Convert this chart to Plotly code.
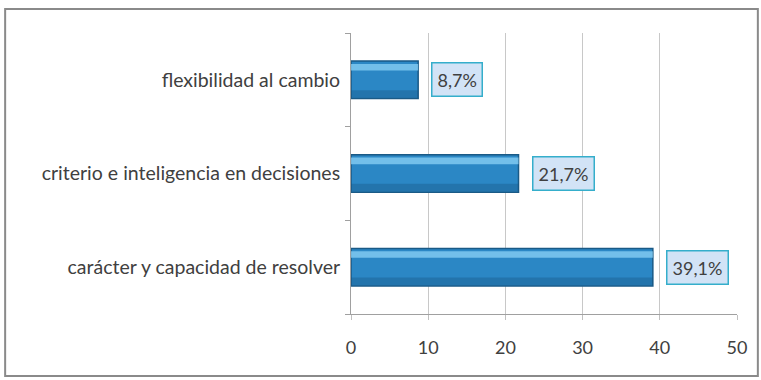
import plotly.graph_objects as go

categories = ["carácter y capacidad de resolver",
              "criterio e inteligencia en decisiones",
              "flexibilidad al cambio"]
values = [39.1, 21.7, 8.7]
labels = ["39,1%", "21,7%", "8,7%"]
x_ticks = [0, 10, 20, 30, 40, 50]

FONT = "Lato, Open Sans, sans-serif"

fig = go.Figure()

# main bars
fig.add_trace(go.Bar(
    y=categories, x=values, orientation="h",
    marker=dict(color="#2b87c5", line=dict(color="#1a5a86", width=1.5)),
    width=0.4, hoverinfo="skip", showlegend=False,
))
# top highlight stripe for a bevelled look
fig.add_trace(go.Bar(
    y=categories, x=values, orientation="h",
    marker=dict(color="rgba(140,210,245,0.75)", line=dict(width=0)),
    width=0.07, offset=0.1, hoverinfo="skip", showlegend=False,
))
# darker lower band
fig.add_trace(go.Bar(
    y=categories, x=values, orientation="h",
    marker=dict(color="rgba(20,80,125,0.35)", line=dict(width=0)),
    width=0.08, offset=-0.19, hoverinfo="skip", showlegend=False,
))

for c, v, t in zip(categories, values, labels):
    fig.add_annotation(
        x=v, y=c, xref="x", yref="y", text=t, showarrow=False,
        xanchor="left", xshift=13,
        font=dict(family=FONT, size=18, color="#404040"),
        bgcolor="#d2e3f6", bordercolor="#35aecb", borderwidth=1.5, borderpad=5,
    )

# outer chart frame
fig.add_shape(type="rect", xref="paper", yref="paper",
              x0=-0.896, x1=1.054, y0=-0.221, y1=1.085,
              line=dict(color="#8a8a8a", width=2), layer="below")

fig.update_layout(
    width=761, height=380,
    margin=dict(l=351, r=24, t=33, b=66),
    paper_bgcolor="white", plot_bgcolor="white",
    barmode="overlay",
    font=dict(family=FONT, size=18, color="#404040"),
    xaxis=dict(range=[0, 50], tickvals=x_ticks, showgrid=True,
               gridcolor="#c8c8c8", gridwidth=1, zeroline=False,
               showline=True, linecolor="#a0a0a0", linewidth=1,
               ticks="outside", ticklen=5, tickcolor="#c0c0c0",
               ticklabelstandoff=12,
               tickfont=dict(size=18, color="#404040"), fixedrange=True),
    yaxis=dict(showline=True, linecolor="#a0a0a0", linewidth=1,
               ticks="outside", ticklen=5, tickcolor="#a0a0a0",
               tickson="boundaries", showgrid=False, ticklabelstandoff=6,
               tickfont=dict(size=19.5, color="#404040"), fixedrange=True),
)

fig.write_html("out.html")
